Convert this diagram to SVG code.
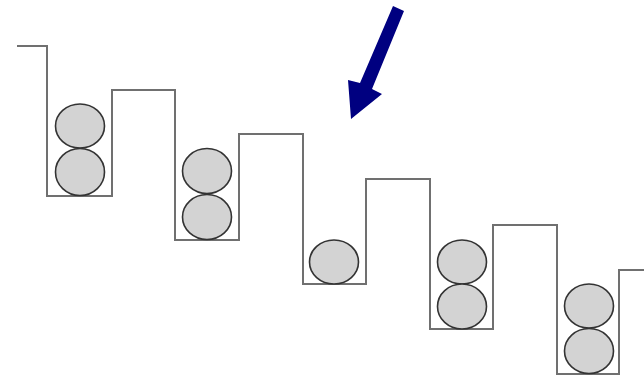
<svg xmlns="http://www.w3.org/2000/svg" width="644" height="378" viewBox="0 0 644 378">
  <style>
    .wall { fill: none; stroke: #707070; stroke-width: 2; stroke-linejoin: miter; }
    .ball { fill: #d3d3d3; stroke: #333333; stroke-width: 1.6; }
    .arrow { fill: #000080; }
  </style>
  <rect width="644" height="378" fill="#ffffff"/>

  <!-- stepped profile with five wells -->
  <path class="wall" d="M17,46 H47 V196 H112 V90 H175 V240 H239 V134 H303 V284 H366 V179 H430 V329 H493 V225 H557 V374 H619 V270 H644"/>

  <!-- balls sitting in each well -->
  <g id="well1">
    <ellipse class="ball" cx="80" cy="126" rx="24.5" ry="22"/>
    <ellipse class="ball" cx="80" cy="172" rx="24.5" ry="23.5"/>
  </g>
  <g id="well2">
    <ellipse class="ball" cx="207" cy="171" rx="24.5" ry="22.5"/>
    <ellipse class="ball" cx="207" cy="217" rx="24.5" ry="22.5"/>
  </g>
  <g id="well3">
    <ellipse class="ball" cx="334" cy="262" rx="24.5" ry="22"/>
  </g>
  <g id="well4">
    <ellipse class="ball" cx="462" cy="262" rx="24.5" ry="22"/>
    <ellipse class="ball" cx="462" cy="306.5" rx="24.5" ry="22.5"/>
  </g>
  <g id="well5">
    <ellipse class="ball" cx="589" cy="306" rx="24.5" ry="22"/>
    <ellipse class="ball" cx="589" cy="351" rx="24.5" ry="22.5"/>
  </g>

  <!-- pointer arrow -->
  <g id="pointer">
    <polygon class="arrow" points="393,6 404,11 372,89 382,94 351,119 348,80 360,83"/>
  </g>
</svg>
